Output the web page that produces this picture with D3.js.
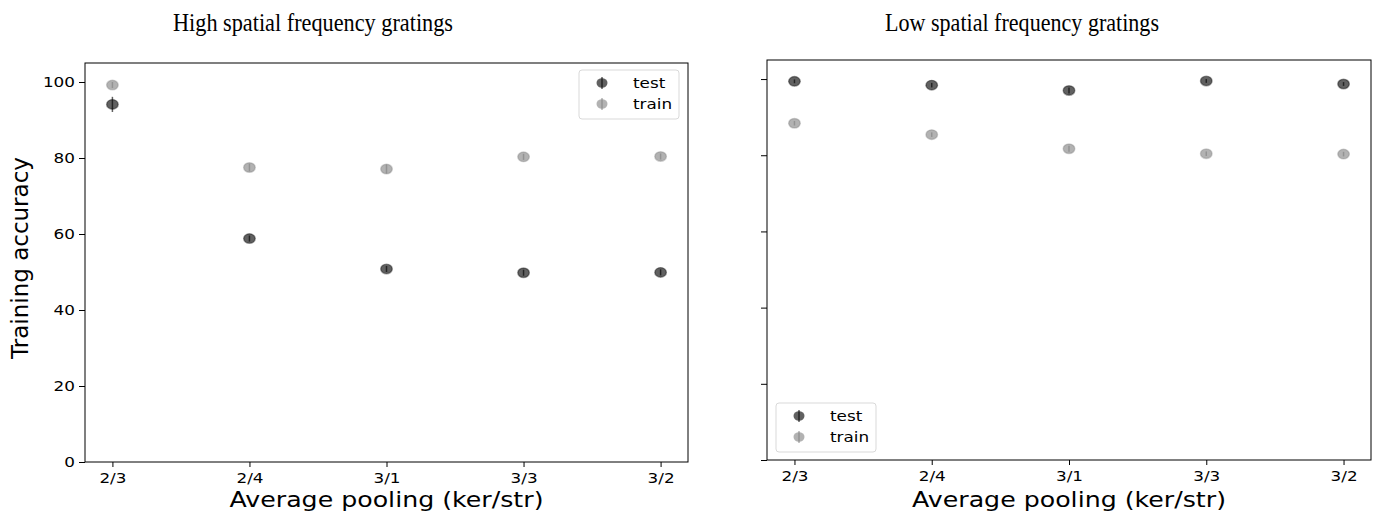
<!DOCTYPE html>
<html>
<head>
<meta charset="utf-8">
<script src="https://cdn.jsdelivr.net/npm/d3@7/dist/d3.min.js"></script>
<style>
  html, body { margin: 0; padding: 0; background: #fff; }
  svg { display: block; }
</style>
</head>
<body>
<svg id="chart" width="1375" height="519"></svg>
<script>
// Pooling configurations (kernel / stride)
const categories = ["2/3", "2/4", "3/1", "3/3", "3/2"];
const yTicks = [0, 20, 40, 60, 80, 100];

// High spatial frequency gratings
const highTest = [94.1, 58.8, 50.8, 49.8, 49.9];
const highTestErr = [2.0, 0.8, 0.8, 0.8, 0.8];
const highTrain = [99.2, 77.5, 77.1, 80.3, 80.4];
const highTrainErr = [0.8, 1.0, 1.2, 0.8, 0.8];

// Low spatial frequency gratings
const lowTest = [99.4, 98.4, 97.0, 99.5, 98.7];
const lowTestErr = [0.5, 0.6, 0.8, 0.5, 0.5];
const lowTrain = [88.4, 85.4, 81.7, 80.4, 80.3];
const lowTrainErr = [0.6, 0.6, 0.8, 0.6, 0.6];

const svg = d3.select("#chart");
const sans = "DejaVu Sans, sans-serif";
const serif = "Liberation Serif, Times New Roman, serif";
const WIDEN = 1.2;   // horizontal stretch applied to sans-serif labels

const styles = {
  test:  { color: "#000000", opacity: 0.62 },
  train: { color: "#7f7f7f", opacity: 0.6 }
};

// widen text horizontally by a factor, keeping its anchor
function widen(sel, k) {
  sel.each(function () {
    const len = this.getComputedTextLength();
    d3.select(this).attr("textLength", len * k).attr("lengthAdjust", "spacingAndGlyphs");
  });
}

function panel(opts) {
  const { left, right, top, bottom, title, titleX, titleW, showYLabels, legendPos,
          test, testErr, train, trainErr } = opts;
  const g = svg.append("g");

  const x = d3.scaleLinear().domain([-0.2, categories.length - 1 + 0.2]).range([left, right]);
  const y = d3.scaleLinear().domain([0, 105]).range([bottom, top]);

  // frame
  g.append("rect")
    .attr("x", left).attr("y", top)
    .attr("width", right - left).attr("height", bottom - top)
    .attr("fill", "none").attr("stroke", "#000").attr("stroke-width", 1);

  // x axis
  const xAxis = d3.axisBottom(x)
    .tickValues(categories.map((d, i) => i))
    .tickFormat(i => categories[i])
    .tickSize(5).tickPadding(6);
  const gx = g.append("g").attr("transform", `translate(0,${bottom})`).call(xAxis);
  gx.select(".domain").remove();
  gx.selectAll("text").attr("font-family", sans).attr("font-size", 14).attr("fill", "#000")
    .call(widen, WIDEN);

  // y axis
  const yAxis = d3.axisLeft(y)
    .tickValues(yTicks)
    .tickFormat(showYLabels ? d3.format("d") : () => "")
    .tickSize(6).tickPadding(4);
  const gy = g.append("g").attr("transform", `translate(${left},0)`).call(yAxis);
  gy.select(".domain").remove();
  gy.selectAll("text").attr("font-family", sans).attr("font-size", 14).attr("fill", "#000")
    .call(widen, WIDEN);

  // x label
  g.append("text")
    .attr("x", (left + right) / 2).attr("y", 507)
    .attr("text-anchor", "middle")
    .attr("font-family", sans).attr("font-size", 21)
    .attr("textLength", 314).attr("lengthAdjust", "spacingAndGlyphs")
    .text("Average pooling (ker/str)");

  // title
  g.append("text")
    .attr("x", titleX).attr("y", 31)
    .attr("font-family", serif).attr("font-size", 26)
    .attr("textLength", titleW).attr("lengthAdjust", "spacingAndGlyphs")
    .text(title);

  // series with error bars
  function series(vals, errs, st) {
    const s = g.append("g");
    s.selectAll("line.err").data(vals).join("line")
      .attr("class", "err")
      .attr("x1", (d, i) => x(i)).attr("x2", (d, i) => x(i))
      .attr("y1", (d, i) => y(d - errs[i])).attr("y2", (d, i) => y(d + errs[i]))
      .attr("stroke", st.color).attr("stroke-opacity", st.opacity).attr("stroke-width", 1.5);
    s.selectAll("ellipse").data(vals).join("ellipse")
      .attr("cx", (d, i) => x(i)).attr("cy", d => y(d))
      .attr("rx", 5.8).attr("ry", 4.8)
      .attr("fill", st.color).attr("fill-opacity", st.opacity)
      .attr("stroke", st.color).attr("stroke-opacity", st.opacity * 0.6).attr("stroke-width", 1.4);
  }
  series(train, trainErr, styles.train);
  series(test, testErr, styles.test);

  // legend
  const lg = g.append("g").attr("transform", `translate(${legendPos[0]},${legendPos[1]})`);
  lg.append("rect")
    .attr("x", 0).attr("y", 0).attr("width", 100).attr("height", 49)
    .attr("rx", 3).attr("fill", "#fff").attr("fill-opacity", 0.8)
    .attr("stroke", "#d9d9d9").attr("stroke-width", 1);
  [["test", styles.test, 13], ["train", styles.train, 34]].forEach(([label, st, cy]) => {
    lg.append("line")
      .attr("x1", 23).attr("x2", 23).attr("y1", cy - 6).attr("y2", cy + 6)
      .attr("stroke", st.color).attr("stroke-opacity", st.opacity).attr("stroke-width", 1.5);
    lg.append("ellipse")
      .attr("cx", 23).attr("cy", cy).attr("rx", 5.5).attr("ry", 4.8)
      .attr("fill", st.color).attr("fill-opacity", st.opacity);
    lg.append("text")
      .attr("x", 54).attr("y", cy + 5)
      .attr("font-family", sans).attr("font-size", 14)
      .text(label)
      .call(widen, WIDEN);
  });

  return { x, y };
}

panel({
  left: 85, right: 688, top: 63, bottom: 462,
  title: "High spatial frequency gratings", titleX: 173, titleW: 280,
  showYLabels: true, legendPos: [579, 70],
  test: highTest, testErr: highTestErr, train: highTrain, trainErr: highTrainErr
});

panel({
  left: 767, right: 1371, top: 60, bottom: 460,
  title: "Low spatial frequency gratings", titleX: 885, titleW: 274,
  showYLabels: false, legendPos: [776, 403],
  test: lowTest, testErr: lowTestErr, train: lowTrain, trainErr: lowTrainErr
});

// shared y label
svg.append("text")
  .attr("transform", "translate(28,258) rotate(-90)")
  .attr("text-anchor", "middle")
  .attr("font-family", sans).attr("font-size", 23)
  .text("Training accuracy");
</script>
</body>
</html>
